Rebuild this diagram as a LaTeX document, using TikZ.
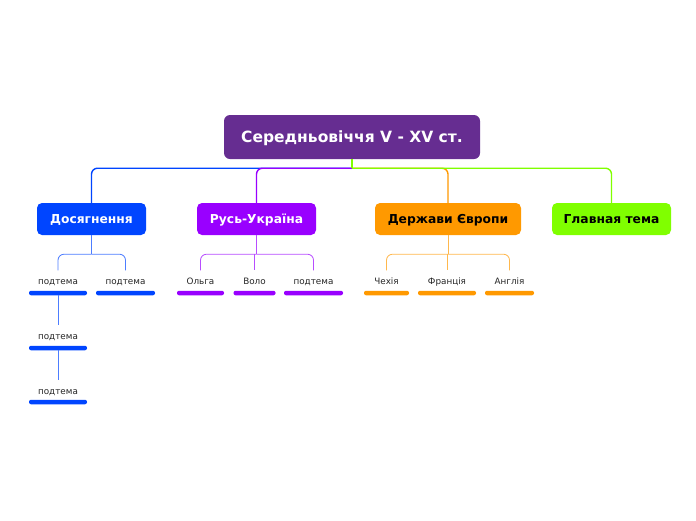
\documentclass[tikz,border=0pt]{standalone}
\usepackage{fontspec}
\setmainfont{DejaVu Sans}
\definecolor{rootc}{HTML}{662D91}
\definecolor{cblue}{HTML}{0045FF}
\definecolor{cpurple}{HTML}{9900FF}
\definecolor{corange}{HTML}{FF9900}
\definecolor{cgreen}{HTML}{80FF00}
\definecolor{cblueL}{HTML}{4D7DFF}
\definecolor{cpurpleL}{HTML}{B84DFF}
\definecolor{corangeL}{HTML}{FFB84D}
\begin{document}
\begin{tikzpicture}[x=1pt,y=-1pt,
 rootbox/.style={fill=rootc, rounded corners=6pt, text=white, font=\bfseries\fontsize{15.5}{17}\selectfont, minimum width=256pt, minimum height=44pt, inner sep=0pt, text height=11pt, text depth=0pt},
 topic/.style={rounded corners=5pt, font=\bfseries\fontsize{12.3}{14}\selectfont, minimum height=32pt, inner sep=0pt, text height=9pt, text depth=0pt},
 subtopic/.style={font=\fontsize{8.8}{10}\selectfont, minimum height=21pt, inner sep=0pt, text=black!85, text height=6.5pt, text depth=0pt},
 subbar/.style={fill=#1, rounded corners=2pt, minimum height=4.5pt, inner sep=0pt},
 conn/.style={draw=#1, line width=1.4pt, rounded corners=6pt},
 sconn/.style={draw=#1, line width=0.8pt, rounded corners=6pt},
]
\fill[white] (0,0) rectangle (696,520);
\useasboundingbox (0,0) rectangle (696,520);

\node[rootbox] (r) at (352,137) {Середньовіччя V - XV ст.};
\node[topic, fill=cblue, text=white, minimum width=109pt] (t1) at (91.5,219) {Досягнення};
\node[topic, fill=cpurple, text=white, minimum width=119pt] (t2) at (256.5,219) {Русь-Україна};
\node[topic, fill=corange, text=black, minimum width=146pt] (t3) at (448,219) {Держави Європи};
\node[topic, fill=cgreen, text=black, minimum width=119pt] (t4) at (611.5,219) {Главная тема};

\coordinate (j0) at ([yshift=-9pt]r.south);
\draw[conn=cblue] (j0) -| (t1.north);
\draw[conn=cpurple] (j0) -| (t2.north);
\draw[conn=corange] (j0) -| (t3.north);
\draw[conn=cgreen] (j0) -| (t4.north);
\draw[conn=cgreen] (r.south) -- (j0);

% Досягнення
\node[subtopic] (s11) at (58,281) {подтема};
\node[subbar=cblue, minimum width=58pt] (b11) at (58,293) {};
\node[subtopic] (s12) at (125.5,281) {подтема};
\node[subbar=cblue, minimum width=59pt] (b12) at (125.5,293) {};
\node[subtopic] (s13) at (58,336) {подтема};
\node[subbar=cblue, minimum width=58pt] (b13) at (58,348) {};
\node[subtopic] (s14) at (58,391) {подтема};
\node[subbar=cblue, minimum width=58pt] (b14) at (58,402) {};
\coordinate (j1) at ([yshift=-19pt]t1.south);
\draw[sconn=cblueL] (t1.south) -- (j1);
\draw[sconn=cblueL] (j1) -| (s11.north);
\draw[sconn=cblueL] (j1) -| (s12.north);
\draw[sconn=cblueL] (b11.south) -- (s13.north);
\draw[sconn=cblueL] (b13.south) -- (s14.north);

% Русь-Україна
\node[subtopic] (s21) at (200.5,281) {Ольга};
\node[subbar=cpurple, minimum width=47pt] (b21) at (200.5,293) {};
\node[subtopic] (s22) at (254.5,281) {Воло};
\node[subbar=cpurple, minimum width=42pt] (b22) at (254.5,293) {};
\node[subtopic] (s23) at (313.5,281) {подтема};
\node[subbar=cpurple, minimum width=59pt] (b23) at (313.5,293) {};
\coordinate (j2) at ([yshift=-19pt]t2.south);
\draw[sconn=cpurpleL] (t2.south) -- (j2);
\draw[sconn=cpurpleL] (j2) -| (s21.north);
\draw[sconn=cpurpleL] (j2 -| s22.north) -- (s22.north);
\draw[sconn=cpurpleL] (j2) -| (s23.north);

% Держави Європи
\node[subtopic] (s31) at (386.5,281) {Чехія};
\node[subbar=corange, minimum width=45pt] (b31) at (386.5,293) {};
\node[subtopic] (s32) at (447,281) {Франція};
\node[subbar=corange, minimum width=58pt] (b32) at (447,293) {};
\node[subtopic] (s33) at (509.5,281) {Англія};
\node[subbar=corange, minimum width=49pt] (b33) at (509.5,293) {};
\coordinate (j3) at ([yshift=-19pt]t3.south);
\draw[sconn=corangeL] (t3.south) -- (j3);
\draw[sconn=corangeL] (j3) -| (s31.north);
\draw[sconn=corangeL] (j3 -| s32.north) -- (s32.north);
\draw[sconn=corangeL] (j3) -| (s33.north);
\end{tikzpicture}
\end{document}
